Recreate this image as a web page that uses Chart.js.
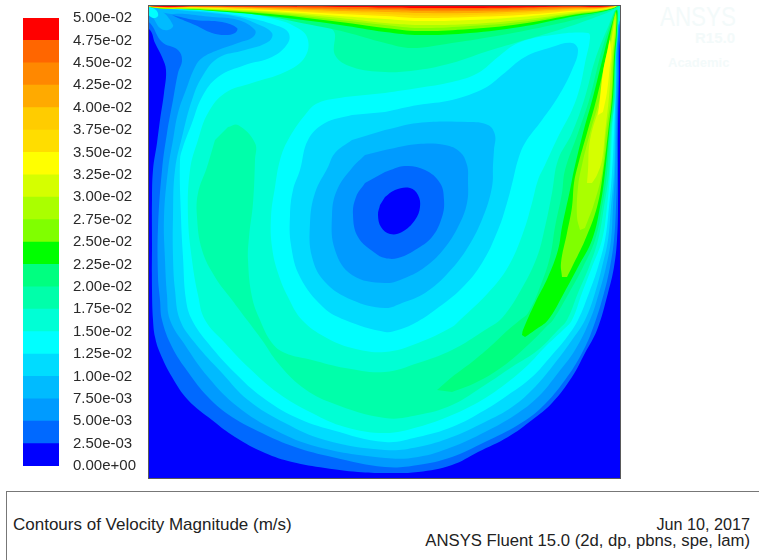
<!DOCTYPE html>
<html><head><meta charset="utf-8">
<script src="https://cdn.jsdelivr.net/npm/chart.js@4"></script>
<style>
html,body{margin:0;padding:0;background:#fff;width:759px;height:560px;overflow:hidden;font-family:"Liberation Sans",Arial,sans-serif}
canvas{position:absolute;display:block}
#legend{left:0;top:0}
#field{left:149px;top:6px;outline:1px solid #5a5a5a}
.t{position:absolute;white-space:nowrap;color:#222;font-size:16.7px;line-height:17px}
#box{position:absolute;left:6px;top:491px;width:770px;height:90px;border:1px solid #777}
.w{position:absolute;white-space:nowrap;color:#f3fafa;font-weight:bold}
</style></head><body>
<canvas id="legend" width="148" height="480"></canvas>
<canvas id="field" width="471" height="472"></canvas>
<div class="w" style="left:660px;top:1px;font-size:28px;font-weight:normal;transform:scaleX(.8);transform-origin:left top">ANSYS</div>
<div class="w" style="left:695px;top:29px;font-size:15px">R15.0</div>
<div class="w" style="left:668px;top:55px;font-size:13px">Academic</div>
<div id="box"></div>
<div class="t" style="left:13px;top:516px;font-size:17px">Contours of Velocity Magnitude (m/s)</div>
<div class="t" style="right:9px;top:516px;font-size:16.2px">Jun 10, 2017</div>
<div class="t" style="right:9px;top:532px">ANSYS Fluent 15.0 (2d, dp, pbns, spe, lam)</div>
<script>
// Colour bar
const tickLabels=["0.00e+00","2.50e-03","5.00e-03","7.50e-03","1.00e-02","1.25e-02","1.50e-02","1.75e-02","2.00e-02","2.25e-02","2.50e-02","2.75e-02","3.00e-02","3.25e-02","3.50e-02","3.75e-02","4.00e-02","4.25e-02","4.50e-02","4.75e-02","5.00e-02"];
const bandColors=["#0000ff","#0069ff","#009bff","#00bbff","#00dcff","#00ffff","#00ffd5","#00ffaa","#00ff80","#00ff00","#80ff00","#aaff00","#d5ff00","#ffff00","#ffdd00","#ffcc00","#ffaa00","#ff8800","#ff6600","#ff0000"];
const bandStep=0.0025;

// Contour outlines: [across, depth below the lid], cavity 0-471 by 0-472
const domain=[[-9,-9],[480,-9],[480,480],[-9,480]];
const boundary01=[[-9,-6],[-9,19],[1,24],[6,37],[13,51],[17,64],[15,87],[11,114],[8,137],[4,164],[3,194],[3,237],[3,284],[4,314],[6,331],[11,347],[23,371],[39,394],[63,414],[86,431],[116,447],[143,456],[176,462],[209,466],[236,467],[269,466],[303,459],[329,446],[359,431],[383,414],[403,397],[423,371],[436,347],[448,324],[459,287],[465,261],[468,234],[469,201],[469,124],[470,74],[471,34],[476,14],[476,-6]];
const boundary02=[[-9,-6],[-9,12],[1,17],[13,36],[29,44],[33,54],[29,67],[24,94],[18,127],[13,164],[9,221],[9,271],[11,294],[13,314],[23,341],[39,366],[59,391],[83,411],[113,427],[146,441],[183,451],[236,461],[269,459],[303,451],[336,436],[369,419],[393,401],[416,374],[433,347],[444,322],[455,287],[461,261],[465,234],[467,201],[468,167],[468,127],[469,74],[470,24],[476,0],[476,-6]];
const boundary03=[[-9,-6],[1,-1],[16,7],[36,8],[63,11],[89,14],[106,24],[104,31],[89,37],[69,44],[53,52],[46,61],[38,81],[29,107],[24,134],[19,164],[15,211],[16,254],[18,289],[21,314],[36,339],[59,371],[89,401],[126,424],[169,441],[236,452],[269,451],[303,441],[336,426],[366,409],[389,391],[409,367],[426,344],[441,314],[450,287],[457,261],[462,234],[464,201],[466,167],[467,127],[468,74],[469,24],[476,0],[476,-6]];
const boundary04=[[-9,-6],[5,-1],[29,4],[63,7],[89,11],[106,17],[123,27],[119,36],[96,44],[69,52],[53,71],[43,94],[34,127],[26,164],[24,211],[24,251],[26,284],[31,314],[46,337],[73,367],[99,394],[136,417],[176,434],[236,444],[269,441],[303,431],[336,416],[363,401],[386,381],[406,357],[423,334],[436,314],[446,287],[453,261],[459,234],[462,201],[465,167],[466,127],[467,74],[468,24],[476,0],[476,-6]];
const boundary05=[[-9,-6],[5,-1],[29,3],[63,6],[96,11],[126,19],[139,26],[139,37],[123,51],[96,59],[69,71],[53,91],[43,117],[34,141],[31,154],[32,211],[34,251],[37,294],[43,314],[59,337],[86,367],[113,391],[146,411],[183,424],[236,436],[269,431],[303,421],[336,404],[359,389],[383,371],[403,349],[418,331],[429,314],[440,287],[449,261],[456,234],[460,201],[463,167],[465,127],[467,74],[468,24],[476,0],[476,-6]];
const boundary06=[[-9,-6],[5,-2],[29,2],[63,4],[96,7],[129,14],[143,19],[158,31],[156,51],[136,66],[103,77],[76,87],[59,107],[49,134],[41,164],[39,211],[43,254],[49,289],[56,314],[76,337],[99,361],[129,387],[163,407],[196,421],[236,427],[269,421],[303,409],[333,394],[359,376],[379,359],[396,341],[414,324],[423,314],[433,287],[443,261],[453,234],[458,201],[461,167],[463,127],[466,74],[468,24],[476,0],[476,-6]];
const hole05=[[236,87],[269,82],[303,76],[329,67],[349,51],[369,37],[403,29],[439,27],[441,32],[436,57],[431,81],[423,104],[409,131],[396,159],[389,174],[383,197],[374,227],[359,261],[339,287],[311,314],[303,321],[269,337],[236,346],[203,342],[176,331],[153,314],[139,291],[129,267],[123,241],[122,211],[126,181],[131,154],[139,134],[156,109],[169,97],[196,91]];
const hole04=[[236,106],[269,99],[303,94],[336,82],[353,69],[376,51],[403,41],[423,37],[429,44],[423,64],[409,91],[393,114],[376,137],[369,154],[364,174],[358,197],[349,224],[333,257],[313,282],[286,304],[266,317],[249,324],[236,326],[196,314],[174,301],[151,271],[142,239],[141,209],[144,184],[151,164],[159,134],[176,117],[203,109]];
const hole03=[[236,124],[269,117],[319,116],[339,119],[346,129],[345,144],[344,159],[343,181],[334,211],[319,241],[299,267],[276,287],[253,297],[236,302],[203,294],[176,276],[163,251],[161,217],[166,187],[179,161],[186,147],[203,134]];
const hole02=[[236,144],[269,138],[296,139],[311,146],[318,159],[319,174],[318,197],[309,221],[294,244],[276,261],[256,272],[236,277],[203,269],[186,244],[183,209],[188,184],[203,162],[216,149]];
const hole01=[[236,166],[256,160],[276,164],[291,177],[295,194],[293,211],[283,231],[266,244],[249,252],[236,252],[226,247],[209,231],[204,209],[207,191],[216,177]];
const hole00=[[236,191],[246,184],[261,182],[269,189],[271,201],[266,214],[253,226],[241,228],[232,221],[229,209],[231,199]];
const pocket01=[[23,9],[46,14],[73,16],[88,22],[86,27],[76,29],[63,27],[46,19],[29,12]];
const corner03=[[-2,2],[9,2],[24,19],[19,24],[11,22],[4,12],[-2,7]];
const corner05=[[-2,0],[7,4],[9,10],[4,12],[-2,8]];
const side07=[[79,121],[89,119],[106,137],[106,154],[104,197],[100,231],[99,254],[103,291],[111,314],[123,337],[136,347],[163,354],[196,362],[236,366],[269,357],[303,344],[336,324],[353,312],[373,282],[388,251],[396,221],[403,187],[409,154],[423,127],[436,91],[446,54],[459,21],[468,2],[469,24],[467,51],[466,91],[462,127],[460,167],[455,201],[449,234],[440,261],[429,287],[418,314],[409,324],[389,344],[363,361],[336,379],[303,399],[269,409],[236,412],[183,397],[153,381],[129,357],[113,334],[98,314],[83,294],[66,271],[53,244],[48,211],[49,187],[58,161],[66,134]];
const side08=[[288,384],[303,371],[323,356],[343,339],[359,324],[371,314],[379,307],[391,281],[401,251],[406,221],[413,187],[416,164],[429,127],[441,91],[451,51],[461,19],[467,4],[468,24],[466,51],[465,91],[461,127],[458,167],[453,201],[446,234],[434,261],[420,287],[404,314],[399,319],[379,339],[353,361],[326,377],[303,386]];
const side09=[[373,329],[374,324],[386,297],[399,271],[409,244],[413,221],[421,184],[425,164],[434,127],[444,91],[454,51],[463,17],[468,4],[468,24],[466,51],[464,91],[460,127],[456,167],[451,201],[443,234],[429,261],[415,287],[399,314],[386,324],[376,331]];
const side10=[[413,271],[412,257],[418,227],[423,201],[425,177],[429,159],[438,127],[448,91],[457,51],[464,16],[467,6],[467,24],[465,51],[463,91],[459,127],[454,167],[448,201],[436,234],[423,261],[418,271]];
const side11=[[431,224],[428,211],[429,181],[433,159],[441,127],[451,91],[459,51],[465,14],[467,8],[467,24],[464,51],[462,91],[457,127],[453,167],[444,201],[439,214],[436,222]];
const side12=[[438,177],[439,164],[441,134],[453,91],[460,51],[466,13],[466,24],[463,51],[460,91],[456,127],[453,154],[448,169],[443,177]];
const side13=[[449,109],[451,92],[454,66],[459,42],[461,34],[462,49],[461,59],[458,86],[454,106]];
const top07=[[-5,-6],[10,-1],[29,2],[96,6],[156,16],[184,24],[186,49],[203,61],[236,66],[269,64],[303,57],[336,46],[369,36],[403,26],[439,14],[468,2],[476,-6]];
const top08=[[-5,-6],[13,1],[96,7],[163,19],[196,26],[236,37],[263,42],[303,37],[353,29],[403,19],[436,11],[466,2],[476,-6]];
// Lower edge of each lid band (depth) at these stations across the cavity
const lidStations=[1,51,121,191,236,271,321,371,421,463];
const lidDepth09=[1,4,10,19,26,29,27,21,11,3];
const lidDepth10=[1,3.5,8,16,22,25,23,18,9.5,2.5];
const lidDepth11=[1,3,7,14,19,22,20,16,8.5,2.2];
const lidDepth12=[.8,2.5,6,12,17,19,18,14,7.5,2];
const lidDepth13=[.6,2,5,10,13,15,14,11,6,1.5];
const lidDepth14=[.5,1.7,4,8,10,12,11,9,5,1.2];
const lidDepth15=[.4,1.4,3.5,6.5,8,9.5,9,7,4,1];
const lidDepth16=[.3,1,2.5,5,6,7,7,5.5,3,.7];
const lidDepth17=[.2,.8,2,3.5,4,5,5,4,2,.5];
const lidDepth18=[.1,.5,1.3,2.5,3,3.5,3.5,2.5,1.3,.3];
const lidDepth19=[0,.2,.6,1,1.5,2,2,1.5,.6,.1];

const lidBand=d=>[[-5,-6],...lidStations.map((x,i)=>[x,d[i]]),[476,-6]];
// Painting order, low to high: outer boundaries, then the vortex rings inward, then the fast bands
const layers=[[domain,0],[boundary01,1],[boundary02,2],[boundary03,3],[boundary04,4],[boundary05,5],[boundary06,6],
 [hole05,5],[hole04,4],[hole03,3],[hole02,2],[hole01,1],[hole00,0],[pocket01,1],[corner03,3],[corner05,5],
 [side07,7],[top07,7],[side08,8],[top08,8],[side09,9],[lidBand(lidDepth09),9],[side10,10],[lidBand(lidDepth10),10],
 [side11,11],[lidBand(lidDepth11),11],[side12,12],[lidBand(lidDepth12),12],[side13,13],[lidBand(lidDepth13),13],
 [lidBand(lidDepth14),14],[lidBand(lidDepth15),15],[lidBand(lidDepth16),16],[lidBand(lidDepth17),17],[lidBand(lidDepth18),18],[lidBand(lidDepth19),19]];

new Chart(document.getElementById('field'),{
 type:'scatter',
 data:{datasets:layers.map(([pts,band],i)=>({
   data:pts.map(([x,y])=>({x,y})),showLine:true,fill:'shape',tension:i===0?0:0.4,
   backgroundColor:bandColors[band],borderWidth:0,pointRadius:0,pointHoverRadius:0,order:layers.length-i}))},
 options:{responsive:false,animation:false,events:[],layout:{padding:0},
  plugins:{legend:{display:false},tooltip:{enabled:false}},
  scales:{x:{type:'linear',min:0,max:471,display:false},y:{type:'linear',min:0,max:472,reverse:true,display:false}}}
});

new Chart(document.getElementById('legend'),{
 type:'bar',
 data:{labels:['band'],datasets:bandColors.map(c=>({data:[bandStep],backgroundColor:c,borderWidth:0,barPercentage:1,categoryPercentage:1}))},
 options:{responsive:false,animation:false,events:[],layout:{padding:{left:23,top:18,bottom:14,right:0}},
  plugins:{legend:{display:false},tooltip:{enabled:false}},
  scales:{x:{stacked:true,display:false},
   y:{stacked:true,position:'right',min:0,max:0.05,afterFit:s=>{s.width=89;s.paddingTop=0;s.paddingBottom=0},
      grid:{display:false,drawTicks:false},border:{display:false},
      afterBuildTicks:s=>{s.ticks=tickLabels.map((_,i)=>({value:i*bandStep}))},
      ticks:{autoSkip:false,padding:14,color:'#2a2a2a',font:{family:'"Liberation Sans"',size:15},callback:(v,i)=>tickLabels[i]}}}}
});
</script>
</body></html>
